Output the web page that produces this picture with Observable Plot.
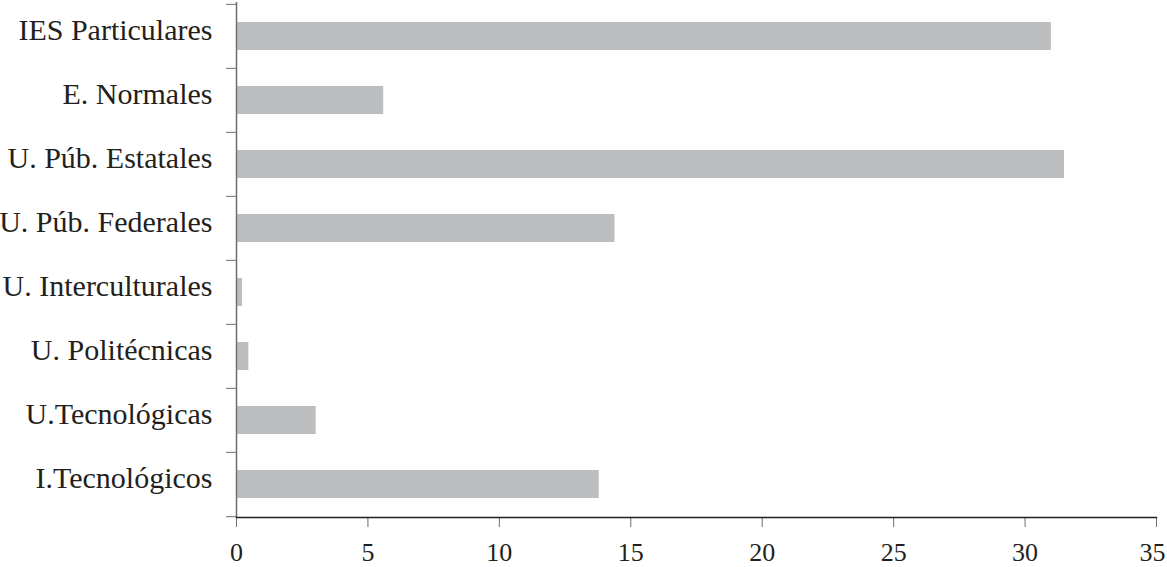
<!DOCTYPE html>
<html>
<head>
<meta charset="utf-8">
<script src="https://cdn.jsdelivr.net/npm/d3@7"></script>
<script src="https://cdn.jsdelivr.net/npm/@observablehq/plot@0.6"></script>
<style>
  html, body { margin: 0; padding: 0; background: #fff; }
  svg { display: block; }
</style>
</head>
<body>
<div id="chart"></div>
<script>
const categories = [
  "IES Particulares",
  "E. Normales",
  "U. Púb. Estatales",
  "U. Púb. Federales",
  "U. Interculturales",
  "U. Politécnicas",
  "U.Tecnológicas",
  "I.Tecnológicos"
];
const values = [31.0, 5.6, 31.5, 14.4, 0.23, 0.47, 3.03, 13.8];
const xTicks = [0, 5, 10, 15, 20, 25, 30, 35];

const data = categories.map((c, i) => ({category: c, value: values[i]}));

const W = 1167, H = 567;
const mTop = 2, mBottom = 50, mLeft = 236, mRight = 11;
const step = (H - mTop - mBottom) / categories.length;
const lastTick = xTicks[xTicks.length - 1];

const chart = Plot.plot({
  width: W,
  height: H,
  marginTop: mTop,
  marginBottom: mBottom,
  marginLeft: mLeft,
  marginRight: mRight,
  style: {fontFamily: "'Liberation Serif', serif", color: "#231f20", background: "#fff"},
  x: {domain: [0, 35], ticks: xTicks},
  y: {domain: categories, paddingInner: 0.57, paddingOuter: 0.285},
  marks: [
    Plot.barX(data, {x: "value", y: "category", fill: "#bcbec0"}),
    // category labels
    Plot.axisY({tickSize: 0, tickPadding: 24, fontSize: 30, dy: -6, label: null, fill: "#231f20"}),
    // tick marks between categories (Excel style)
    Plot.axisY({tickSize: 10, text: null, label: null, dy: -step / 2, stroke: "#6d6e71"}),
    Plot.axisY({ticks: [categories[categories.length - 1]], tickSize: 10, text: null, label: null, dy: step / 2, stroke: "#6d6e71"}),
    Plot.ruleX([0], {stroke: "#6d6e71", strokeWidth: 1.5}),
    Plot.axisX({ticks: xTicks, tickSize: 10, text: null, label: null, stroke: "#6d6e71"}),
    Plot.axisX({ticks: xTicks.slice(0, -1), tickSize: 0, tickPadding: 25, fontSize: 26, label: null, fill: "#231f20", tickFormat: d => String(d)}),
    Plot.axisX({ticks: [lastTick], tickSize: 0, tickPadding: 25, fontSize: 26, dx: -4, label: null, fill: "#231f20", tickFormat: d => String(d)}),
    Plot.frame({anchor: "bottom", stroke: "#231f20", strokeWidth: 1.5})
  ]
});
document.getElementById("chart").appendChild(chart);
</script>
</body>
</html>
